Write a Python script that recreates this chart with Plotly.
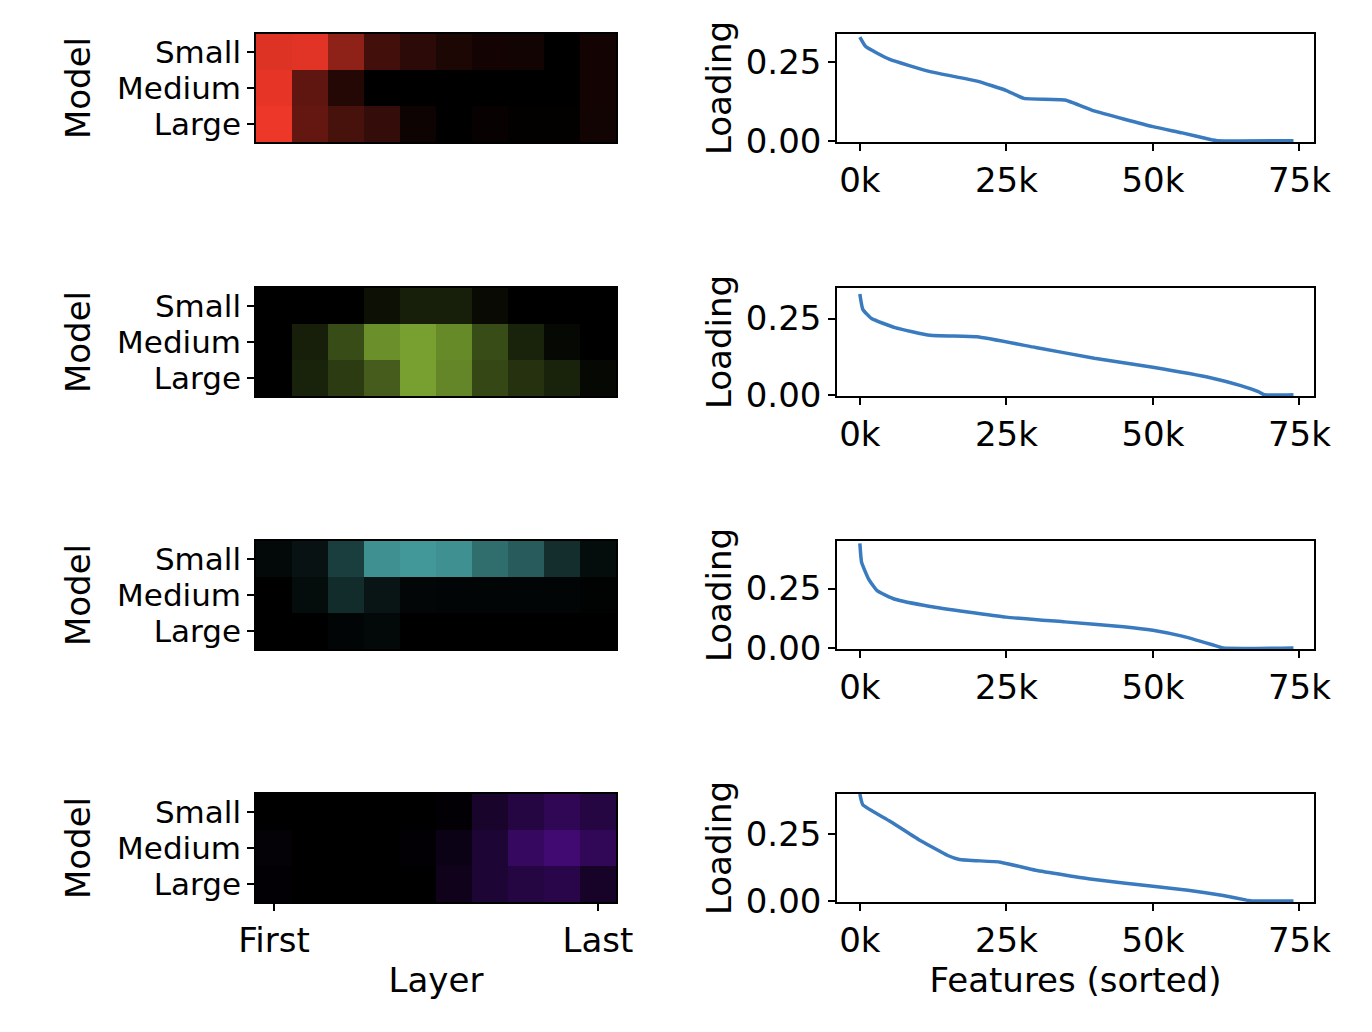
import plotly.graph_objects as go
from plotly.subplots import make_subplots

models = ["Small", "Medium", "Large"]
layers = list(range(10))
layer_ticks = ["First", "Last"]

red = [[0.93,0.95,0.6,0.28,0.18,0.12,0.08,0.07,0.0,0.08],
       [0.97,0.4,0.15,0,0,0,0,0,0,0.08],
       [1.0,0.42,0.3,0.22,0.05,0,0.03,0.01,0.01,0.07]]
green = [[0,0,0,0.1,0.18,0.18,0.06,0,0,0],
         [0,0.18,0.45,0.85,0.95,0.82,0.45,0.2,0.05,0],
         [0,0.2,0.35,0.55,0.95,0.8,0.42,0.3,0.2,0.05]]
teal = [[0.05,0.12,0.4,0.95,1.0,0.95,0.72,0.6,0.3,0.08],
        [0,0.08,0.28,0.13,0.04,0.03,0.03,0.03,0.03,0.02],
        [0,0,0.03,0.05,0,0,0,0,0,0]]
purple = [[0,0,0,0,0,0.03,0.25,0.38,0.48,0.38],
          [0.04,0,0,0,0.03,0.12,0.3,0.55,0.65,0.5],
          [0.02,0,0,0,0,0.15,0.3,0.38,0.42,0.22]]
heat_data = [red, green, teal, purple]
max_colors = ["rgb(237,55,40)", "rgb(125,168,50)", "rgb(66,152,152)", "rgb(98,15,175)"]

loading_x = [
    [0,1,5,12,20,25,28,35,40,50,55,60,61,74],
    [0,0.5,2,6,12,20,30,40,50,60,65,68,69,74],
    [0,0.3,1.5,3,6,12,25,35,45,50,55,60,62,74],
    [0,0.5,5,10,15,17,24,30,40,50,56,62,66,67,74],
]
loading_y = [
    [0.33,0.30,0.26,0.22,0.19,0.16,0.135,0.13,0.095,0.045,0.025,0.003,0,0],
    [0.33,0.28,0.25,0.22,0.195,0.19,0.155,0.12,0.09,0.055,0.03,0.01,0,0],
    [0.44,0.36,0.29,0.24,0.205,0.175,0.13,0.11,0.09,0.075,0.05,0.015,0,0],
    [0.40,0.36,0.30,0.23,0.17,0.155,0.145,0.115,0.08,0.055,0.04,0.02,0.003,0,0],
]
ytops = [0.34, 0.35, 0.45, 0.40]

W, H = 1372, 1032
OFF = 7
fig = make_subplots(rows=4, cols=2)
F = 34
rows_y = [(33,141),(287,395),(540,648),(793,901)]
for i in range(4):
    r = i + 1
    fig.add_trace(go.Heatmap(z=heat_data[i], x=layers, y=list(range(len(models))), zmin=0, zmax=1,
                             colorscale=[[0,"black"],[1,max_colors[i]]], showscale=False), row=r, col=1)
    fig.add_trace(go.Scatter(x=[v*1000 for v in loading_x[i]], y=loading_y[i], mode="lines",
                             line=dict(color="#3a7bbf", width=3.5, shape="spline", smoothing=0.4),
                             showlegend=False), row=r, col=2)
    t, b = rows_y[i]
    dom = [1 - (b-OFF)/H, 1 - (t-OFF)/H]
    ax = dict(showline=True, linecolor="black", linewidth=1.5, mirror=True, automargin=False,
              ticklen=7, tickwidth=1.5, tickcolor="black", showgrid=False, zeroline=False)
    fig.update_yaxes(domain=dom, range=[2.5, -0.5], ticks="outside",
                     tickvals=[0, 1, 2], ticktext=models, tickfont=dict(size=31, color="black"),
                     title=dict(text="Model", font=dict(size=F), standoff=16), **ax, row=r, col=1)
    fig.update_xaxes(domain=[(255-OFF)/W, (615-OFF)/W], range=[-0.5, 9.5],
                     tickvals=[0, 9] if r == 4 else [], ticktext=layer_ticks if r == 4 else [],
                     tickfont=dict(size=F, color="black"),
                     ticks="outside" if r == 4 else "", **ax, row=r, col=1)
    fig.update_yaxes(domain=dom, range=[-0.004, ytops[i]], tickvals=[0, 0.25], ticktext=["0.00", "0.25"],
                     tickfont=dict(size=F, color="black"),
                     ticks="outside", title=dict(text="Loading", font=dict(size=F), standoff=4),
                     **ax, row=r, col=2)
    fig.update_xaxes(domain=[(836-OFF)/W, (1313-OFF)/W], range=[-3900, 77500], ticks="outside",
                     tickfont=dict(size=F, color="black"),
                     tickvals=[0, 25000, 50000, 75000], ticktext=["0k", "25k", "50k", "75k"], **ax, row=r, col=2)

fig.update_xaxes(title=dict(text="Layer", font=dict(size=F), standoff=10), row=4, col=1)
fig.update_xaxes(title=dict(text="Features (sorted)", font=dict(size=F), standoff=10), row=4, col=2)
fig.update_layout(width=W, height=H, autosize=False, margin=dict(l=0, r=0, t=0, b=0),
                  plot_bgcolor="white", paper_bgcolor="white",
                  font=dict(family="DejaVu Sans", size=F, color="black"))
fig.write_html("out.html")
